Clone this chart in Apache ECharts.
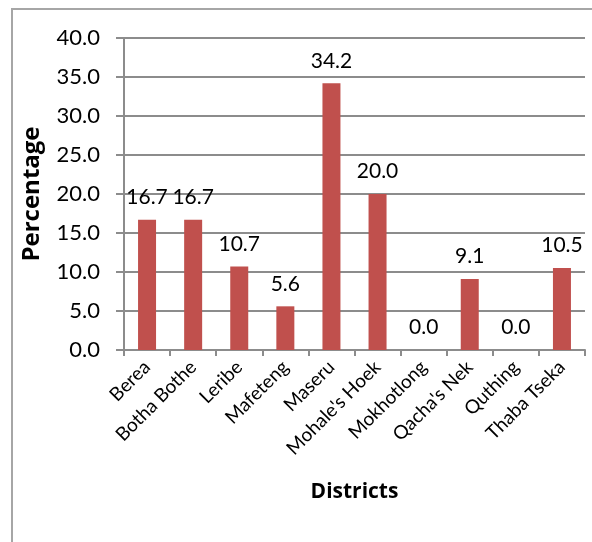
<!DOCTYPE html>
<html>
<head>
<meta charset="utf-8">
<script src="https://cdn.jsdelivr.net/npm/echarts@6/dist/echarts.min.js"></script>
<style>
  html, body { margin: 0; padding: 0; background: #fff; }
  #frame { position: absolute; left: 11px; top: 8px; width: 640px; height: 600px;
           border: 2px solid #a6a6a6; box-sizing: border-box; }
  #chart { position: absolute; left: 0; top: 0; width: 592px; height: 542px; }
</style>
</head>
<body>
<div id="frame"></div>
<div id="chart"></div>
<script>
// Share of respondents per district (%)
const districts = ['Berea', 'Botha Bothe', 'Leribe', 'Mafeteng', 'Maseru',
                   "Mohale's Hoek", 'Mokhotlong', "Qacha's Nek", 'Quthing', 'Thaba Tseka'];
const percentages = [16.7, 16.7, 10.7, 5.6, 34.2, 20.0, 0.0, 9.1, 0.0, 10.5];
const yTicks = { min: 0, max: 40, interval: 5 };

const FONT = 'Lato, "Open Sans", sans-serif';
const TITLE_FONT = '"Open Sans", Lato, sans-serif';
const GRID_GRAY = '#8c8c8c';

const chart = echarts.init(document.getElementById('chart'), null, { renderer: 'canvas' });
chart.setOption({
  animation: false,
  backgroundColor: 'transparent',
  grid: { left: 124, right: 7, top: 38, bottom: 192, containLabel: false },
  xAxis: {
    type: 'category',
    data: districts,
    name: 'Districts',
    nameLocation: 'middle',
    nameGap: 132,
    nameTextStyle: { fontFamily: TITLE_FONT, fontSize: 21, fontWeight: 'bold', color: '#000' },
    axisLine: { lineStyle: { color: GRID_GRAY, width: 2 } },
    axisTick: { show: true, length: 6, alignWithLabel: false, lineStyle: { color: GRID_GRAY, width: 2 } },
    axisLabel: { rotate: 45, interval: 0, margin: 14, fontFamily: FONT, fontSize: 19, color: '#000' }
  },
  yAxis: {
    type: 'value',
    min: yTicks.min, max: yTicks.max, interval: yTicks.interval,
    name: 'Percentage',
    nameLocation: 'middle',
    nameGap: 80,
    nameRotate: 90,
    nameTextStyle: { fontFamily: TITLE_FONT, fontSize: 24, fontWeight: 'bold', color: '#000' },
    axisLine: { show: true, lineStyle: { color: GRID_GRAY, width: 2 } },
    axisTick: { show: true, length: 8, lineStyle: { color: GRID_GRAY, width: 2 } },
    splitLine: { show: true, lineStyle: { color: GRID_GRAY, width: 2 } },
    axisLabel: { margin: 24, fontFamily: FONT, fontSize: 22, color: '#000',
                 formatter: v => v.toFixed(1) }
  },
  series: [{
    type: 'bar',
    data: percentages,
    barWidth: 18,
    itemStyle: { color: '#c0504d' },
    label: {
      show: true, position: 'top', distance: 12,
      fontFamily: FONT, fontSize: 21, color: '#000',
      formatter: p => p.value.toFixed(1)
    }
  }]
});
</script>
</body>
</html>
